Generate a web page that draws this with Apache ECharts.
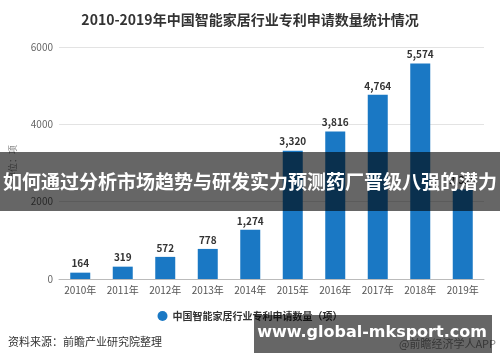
<!DOCTYPE html>
<html><head><meta charset="utf-8">
<script src="https://cdn.jsdelivr.net/npm/echarts@6/dist/echarts.min.js"></script>
<style>html,body{margin:0;padding:0;background:#fff}#c{width:500px;height:362px}</style>
</head><body><div id="c"></div>
<script>
var categories = ['2010年','2011年','2012年','2013年','2014年','2015年','2016年','2017年','2018年','2019年'];
var patentCounts = [164, 319, 572, 778, 1274, 3320, 3816, 4764, 5574, 2320];
var yTicks = [0, 2000, 4000, 6000];
var seriesName = '中国智能家居行业专利申请数量（项）';
var titleText = '2010-2019年中国智能家居行业专利申请数量统计情况';
var bannerText = '如何通过分析市场趋势与研发实力预测药厂晋级八强的潜力';
var siteText = 'www.global-mksport.com';
var sourceText = '资料来源：前瞻产业研究院整理';
var creditText = '@前瞻经济学人APP';

var font = '"Noto Sans CJK SC", "Noto Sans", sans-serif';
var chart = echarts.init(document.getElementById('c'));
chart.setOption({
  animation: false,
  textStyle: {fontFamily: font},
  title: {text: titleText, left: 'center', top: 8,
    textStyle: {fontSize: 14, fontWeight: 'bold', color: '#333', fontFamily: font}},
  grid: {left: 58, right: 16, top: 47, bottom: 83, containLabel: false},
  legend: {bottom: 36, left: 'center', icon: 'circle', itemWidth: 10, itemHeight: 10,
    textStyle: {fontSize: 10, fontWeight: 'bold', color: '#333'}},
  xAxis: {type: 'category', data: categories,
    axisLine: {lineStyle: {color: '#bbb'}},
    axisTick: {alignWithLabel: true, length: 4, lineStyle: {color: '#bbb'}},
    axisLabel: {fontSize: 10, color: '#555', margin: 6}},
  yAxis: {type: 'value', min: yTicks[0], max: yTicks[yTicks.length-1], interval: 2000,
    name: '单位：项', nameLocation: 'middle', nameGap: 42, nameRotate: 90,
    nameTextStyle: {fontSize: 9, color: '#888'},
    axisLine: {show: false}, axisTick: {show: false},
    axisLabel: {fontSize: 10, color: '#666', margin: 6, formatter: function(v){ return String(v); }},
    splitLine: {lineStyle: {color: '#e3e3e3'}}},
  series: [{name: seriesName, type: 'bar', data: patentCounts, barWidth: 20,
    itemStyle: {color: '#1a78c4'},
    label: {show: true, position: 'top', distance: 4, fontSize: 10, fontWeight: 'bold', color: '#333',
      formatter: function(p){ return p.value.toLocaleString('en-US'); }}}],
  graphic: [
    {type: 'text', left: 8, top: 336, style: {text: sourceText, fill: '#333', font: '11px ' + font}},
    {type: 'text', right: 4, top: 338, style: {text: creditText, fill: '#888', font: '11px ' + font}},
    {type: 'rect', shape: {x: 0, y: 152, width: 500, height: 59}, style: {fill: 'rgba(0,0,0,0.6)'}, z: 100},
    {type: 'text', x: 250, y: 182, z: 101, style: {text: bannerText, fill: '#fff', align: 'center', verticalAlign: 'middle',
      font: 'bold 19px ' + font}},
    {type: 'rect', shape: {x: 254, y: 315, width: 238, height: 38}, style: {fill: 'rgba(0,0,0,0.6)'}, z: 100},
    {type: 'text', x: 372, y: 333, z: 101, style: {text: siteText, fill: '#fff', align: 'center', verticalAlign: 'middle',
      font: 'bold 16px "DejaVu Sans", sans-serif'}}
  ]
});
</script></body></html>
